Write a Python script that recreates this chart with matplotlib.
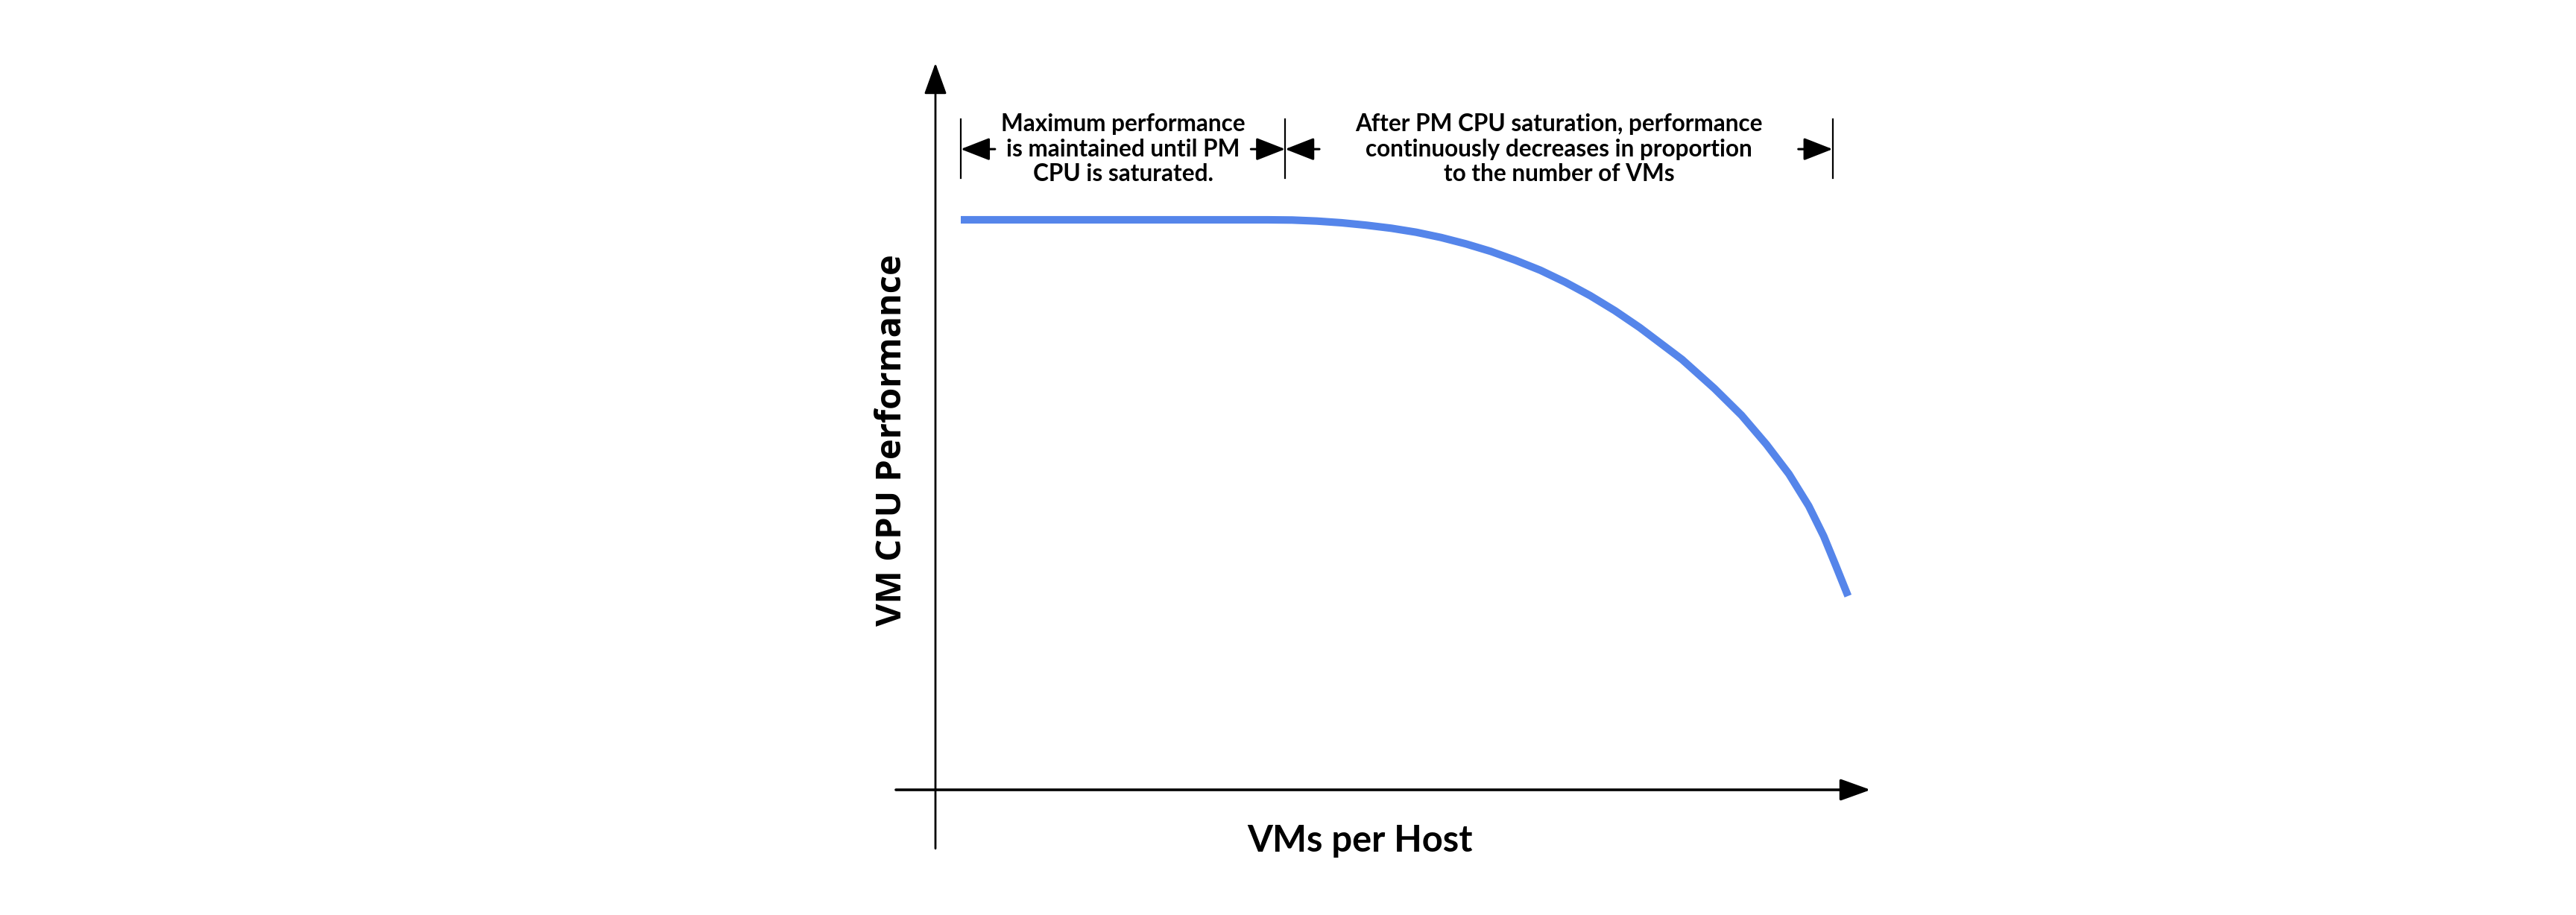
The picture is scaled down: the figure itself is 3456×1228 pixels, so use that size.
import matplotlib.pyplot as plt

# VMs per host vs. VM CPU performance (% of maximum)
vms = [1.0, 13.09, 14.07, 15.05, 16.03, 17.01, 17.99, 18.97, 19.95, 20.93,
       21.91, 22.89, 23.87, 24.85, 25.83, 26.81, 27.79, 29.46, 30.74, 31.81,
       32.79, 33.68, 34.46, 35.05, 35.54, 36.01]
perf = [100.0, 100.0, 99.96, 99.78, 99.48, 99.05, 98.52, 97.82, 96.9, 95.78,
        94.47, 92.9, 91.15, 89.06, 86.71, 84.06, 81.1, 75.5, 70.4, 65.7,
        60.6, 55.4, 49.8, 44.5, 39.2, 34.0]

saturation = 13.8
range_end = 35.4

note_left = "Maximum performance\nis maintained until PM\nCPU is saturated."
note_right = ("After PM CPU saturation, performance\n"
              "continuously decreases in proportion\nto the number of VMs")

BLUE = '#5585EA'
TEXT_FONT = ['Lato', 'DejaVu Sans']
LABEL_FONT = ['Open Sans', 'DejaVu Sans']

W, H = 3456, 1228
fig = plt.figure(figsize=(W / 100, H / 100), dpi=100)
# axes box: origin at pixel (1255, 1060 from top); 34 px per VM, 7.65 px per %
x0, y0 = 1255, H - 1060
ax = fig.add_axes([x0 / W, y0 / H, 36 * 34 / W, 100 * 7.65 / H])
ax.set_xlim(0, 36)
ax.set_ylim(0, 100)
ax.axis('off')

ax.plot(vms, perf, color=BLUE, lw=7.3, solid_capstyle='butt',
        solid_joinstyle='round', clip_on=False)

# axes drawn as arrows
ax.annotate('', xy=(0, 127.5), xytext=(0, -10.3),
            arrowprops=dict(arrowstyle='-|>,head_length=26,head_width=9.4',
                            mutation_scale=1, lw=2.0, color='black',
                            shrinkA=0, shrinkB=0), annotation_clip=False)
ax.annotate('', xy=(36.9, 0), xytext=(-1.56, 0),
            arrowprops=dict(arrowstyle='-|>,head_length=25,head_width=9',
                            mutation_scale=1, lw=2.6, color='black',
                            shrinkA=0, shrinkB=0), annotation_clip=False)

# range markers above the curve
y_top, y_bot, y_arr = 117.6, 107.3, 112.4
for xb in [vms[0], saturation, range_end]:
    ax.plot([xb, xb], [y_bot, y_top], color='black', lw=1.6, clip_on=False)

arr = dict(arrowstyle='-|>,head_length=24,head_width=9.4', mutation_scale=1,
           lw=2.2, color='black', shrinkA=0, shrinkB=0)
for tip, dx in [(vms[0], 1.35), (saturation, -1.35),
                (saturation, 1.35), (range_end, -1.35)]:
    ax.annotate('', xy=(tip, y_arr), xytext=(tip + dx, y_arr),
                arrowprops=arr, annotation_clip=False)

ax.text((vms[0] + saturation) / 2, y_arr, note_left, ha='center', va='center',
        fontsize=22.7, fontweight='bold', family=TEXT_FONT, linespacing=1.2)
ax.text((saturation + range_end) / 2, y_arr, note_right, ha='center',
        va='center', fontsize=22.7, fontweight='bold', family=TEXT_FONT,
        linespacing=1.2)

ax.text(16.75, -8.9, 'VMs per Host', ha='center', va='center', fontsize=35.2,
        fontweight='bold', family=TEXT_FONT)
ax.text(-1.72, 61.3, 'VM CPU Performance', ha='center', va='center',
        rotation=90, fontsize=33.8, fontweight='bold', family=LABEL_FONT)

plt.savefig('out.png', dpi=100)
